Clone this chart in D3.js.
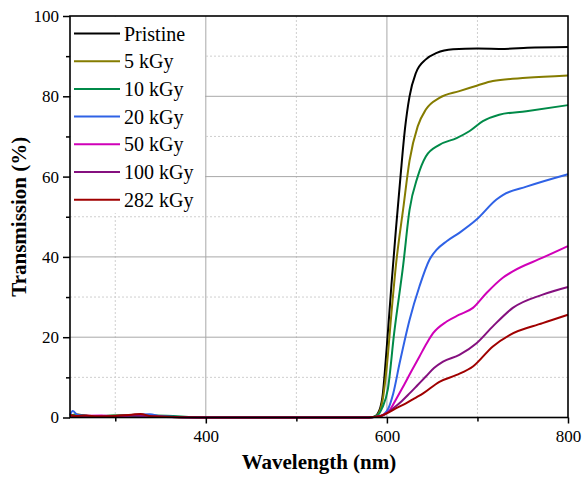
<!DOCTYPE html>
<html>
<head>
<meta charset="utf-8">
<script src="https://cdn.jsdelivr.net/npm/d3@7"></script>
<style>
  body { margin: 0; background: #fff; }
  text { font-family: "Liberation Serif", "Times New Roman", serif; }
</style>
</head>
<body>
<svg id="chart" width="584" height="478"></svg>
<script>
//////////////////////////////////////////////////////////////////////////////
// Data: [wavelength nm, transmission %]

var names = ["Pristine", "5 kGy", "10 kGy", "20 kGy", "50 kGy", "100 kGy", "282 kGy"];
var colors = ["#000000", "#857c00", "#008a48", "#2f62e6", "#d000b8", "#85107f", "#a00000"];

var pristine = [[250,0.3],[262,0.5],[280,0.2],[300,0.3],[330,0.4],[360,0.1],[400,0],[500,0],[580,0],[585,0.1],
  [590,1],[595,5],[600,18],[605,33],[610,47],[615,60],[620,72],[625,80],[632,85.8],[643,89.2],[655,90.8],
  [673,91.7],[700,91.9],[730,91.8],[755,92.1],[800,92.3]];
var kgy5 = [[250,0.4],[257,0.8],[270,0.3],[290,0.4],[315,0.6],[340,0.3],[400,0],[500,0],[580,0],[585,0.1],
  [590,0.8],[595,4],[600,13],[605,26],[610,38],[618,52],[625,64],[634,72.5],[643,76.7],[658,79.6],
  [680,81.3],[700,82.7],[717,83.8],[754,84.6],[800,85.2]];
var kgy10 = [[250,0.5],[260,0.6],[275,0.3],[298,0.5],[320,0.4],[345,0.5],[400,0],[500,0],[580,0],[585,0.1],
  [590,0.6],[595,2.5],[601,7],[608,21],[618,38],[625,51.7],[634,60],[643,65],[658,67.9],[677,69.6],
  [691,71.3],[706,73.8],[724,75.4],[754,76.3],[800,77.8]];
var kgy20 = [[250,0.6],[253,1.6],[258,0.7],[270,0.4],[295,0.3],[338,0.8],[350,0.3],[400,0],[500,0],[580,0],
  [586,0.1],[592,0.3],[597,0.9],[601,2],[607,6],[614,13.5],[625,24.3],[636,32.7],[647,39.3],[655,41.8],
  [666,43.9],[680,46],[699,49.3],[721,54.3],[728,55.4],[754,57.5],[800,60.6]];
var kgy50 = [[250,0.3],[262,0.4],[285,0.5],[305,0.3],[322,0.6],[340,0.2],[400,0],[500,0],[580,0],
  [586,0.1],[592,0.3],[597,0.8],[603,1.8],[610,4.5],[618,7.7],[627,11.5],[636,15.2],[644,18.5],[651,21],
  [666,23.9],[680,25.6],[695,27.3],[710,31],[728,34.8],[739,36.4],[772,39.8],[800,42.7]];
var kgy100 = [[250,0.4],[266,0.3],[284,0.2],[310,0.5],[333,0.4],[355,0.2],[400,0],[500,0],[580,0],
  [586,0.1],[592,0.3],[598,0.8],[607,2.3],[616,4],[625,6],[634,8.1],[643,10.2],[652,12.3],[662,13.9],
  [680,15.6],[699,18.5],[717,22.7],[739,27.3],[772,30.6],[800,32.5]];
var kgy282 = [[250,0.6],[255,0.4],[268,0.5],[280,0.3],[300,0.4],[318,0.7],[328,0.9],[340,0.3],[400,0],
  [500,0],[580,0],[586,0.1],[592,0.3],[603,1.4],[612,2.5],[621,3.5],[630,4.7],[640,6],[658,8.9],
  [677,10.6],[695,12.7],[717,17.7],[736,20.6],[772,23.5],[800,25.6]];

var series = [pristine, kgy5, kgy10, kgy20, kgy50, kgy100, kgy282];

var xMajor = [400, 600, 800];
var xMinor = [300, 500, 700];
var yMajor = [0, 20, 40, 60, 80, 100];
var yMinor = [10, 30, 50, 70, 90];

//////////////////////////////////////////////////////////////////////////////
// Scales and frame

var plotLeft = 70, plotRight = 568, plotTop = 16, plotBottom = 417.5;

var xScale = d3.scaleLinear().domain([250, 800]).range([plotLeft, plotRight]);
var yScale = d3.scaleLinear().domain([0, 100]).range([plotBottom, plotTop]);

var svg = d3.select("#chart");

// grid
svg.append("g").selectAll("line")
    .data(xMajor.slice(0, 2))
    .enter().append("line")
    .attr("x1", function(d) { return xScale(d); })
    .attr("x2", function(d) { return xScale(d); })
    .attr("y1", plotTop).attr("y2", plotBottom)
    .attr("stroke", "#a8a8a8").attr("stroke-width", 1);

svg.append("g").selectAll("line")
    .data(xMinor)
    .enter().append("line")
    .attr("x1", function(d) { return xScale(d); })
    .attr("x2", function(d) { return xScale(d); })
    .attr("y1", plotTop).attr("y2", plotBottom)
    .attr("stroke", "#cfcfcf").attr("stroke-width", 1)
    .attr("stroke-dasharray", "2,2");

svg.append("g").selectAll("line")
    .data(yMajor.slice(1, 5))
    .enter().append("line")
    .attr("x1", plotLeft).attr("x2", plotRight)
    .attr("y1", function(d) { return yScale(d); })
    .attr("y2", function(d) { return yScale(d); })
    .attr("stroke", "#a8a8a8").attr("stroke-width", 1);

svg.append("g").selectAll("line")
    .data(yMinor)
    .enter().append("line")
    .attr("x1", plotLeft).attr("x2", plotRight)
    .attr("y1", function(d) { return yScale(d); })
    .attr("y2", function(d) { return yScale(d); })
    .attr("stroke", "#cfcfcf").attr("stroke-width", 1)
    .attr("stroke-dasharray", "2,2");

// legend backdrop hides grid behind it
svg.append("rect")
    .attr("x", plotLeft + 1).attr("y", plotTop + 1)
    .attr("width", 134).attr("height", 196)
    .attr("fill", "#fff");

//////////////////////////////////////////////////////////////////////////////
// Curves

var line = d3.line()
    .x(function(d) { return xScale(d[0]); })
    .y(function(d) { return yScale(d[1]); })
    .curve(d3.curveMonotoneX);

svg.append("g").selectAll("path")
    .data(series)
    .enter().append("path")
    .attr("d", line)
    .attr("fill", "none")
    .attr("stroke", function(d, i) { return colors[i]; })
    .attr("stroke-width", 2);

//////////////////////////////////////////////////////////////////////////////
// Axes

var xAxis = d3.axisBottom(xScale).tickValues(xMajor).tickSize(6).tickPadding(6);
var xAxisMinor = d3.axisBottom(xScale).tickValues(xMinor).tickSize(4).tickFormat("");
var yAxis = d3.axisLeft(yScale).tickValues(yMajor).tickSize(7).tickPadding(4);
var yAxisMinor = d3.axisLeft(yScale).tickValues(yMinor).tickSize(4).tickFormat("");

function styleAxis(g) {
    g.attr("font-size", null).attr("font-family", null);
    g.select(".domain").remove();
    g.selectAll("line").attr("stroke", "#000").attr("stroke-width", 1.5);
    g.selectAll("text").attr("fill", "#000")
        .style("font-size", "17px")
        .style("font-family", "'Liberation Serif', 'Times New Roman', serif");
}

svg.append("g").attr("transform", "translate(0," + plotBottom + ")").call(xAxis).call(styleAxis);
svg.append("g").attr("transform", "translate(0," + plotBottom + ")").call(xAxisMinor).call(styleAxis);
svg.append("g").attr("transform", "translate(" + plotLeft + ",0)").call(yAxis).call(styleAxis);
svg.append("g").attr("transform", "translate(" + plotLeft + ",0)").call(yAxisMinor).call(styleAxis);

// frame
svg.append("rect")
    .attr("x", plotLeft).attr("y", plotTop)
    .attr("width", plotRight - plotLeft).attr("height", plotBottom - plotTop)
    .attr("fill", "none").attr("stroke", "#000").attr("stroke-width", 1.6);

svg.append("text")
    .attr("x", (plotLeft + plotRight) / 2).attr("y", 469)
    .attr("text-anchor", "middle")
    .style("font-size", "21px").style("font-weight", "bold")
    .text("Wavelength (nm)");

svg.append("text")
    .attr("transform", "translate(26," + ((plotTop + plotBottom) / 2) + ") rotate(-90)")
    .attr("text-anchor", "middle")
    .style("font-size", "21px").style("font-weight", "bold")
    .text("Transmission (%)");

//////////////////////////////////////////////////////////////////////////////
// Legend

var legend = svg.append("g").selectAll("g")
    .data(names)
    .enter().append("g")
    .attr("transform", function(d, i) { return "translate(74," + (33.5 + i * 27.7) + ")"; });

legend.append("line")
    .attr("x1", 0).attr("x2", 46)
    .attr("stroke", function(d, i) { return colors[i]; })
    .attr("stroke-width", 2);

legend.append("text")
    .attr("x", 50).attr("y", 7)
    .style("font-size", "20px")
    .text(function(d) { return d; });
</script>
</body>
</html>
